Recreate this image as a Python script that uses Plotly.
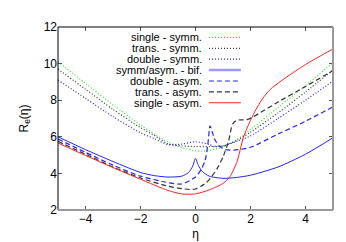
import plotly.graph_objects as go

# ---------------- data ----------------
x_single_symm = [-5, -4, -3, -2, -1.5, -1, -0.5, 0, 0.2, 0.5, 1, 1.5, 2, 3, 4, 5]
y_single_symm = [10.1, 8.92, 7.75, 6.65, 6.15, 5.72, 5.4, 5.23, 5.21, 5.25, 5.45, 5.85, 6.4, 7.6, 8.8, 10.05]

x_trans_symm = [-5, -4, -3, -2, -1.5, -1, -0.5, 0, 0.5, 1, 1.5, 2, 3, 4, 5]
y_trans_symm = [9.7, 8.6, 7.5, 6.5, 6.08, 5.62, 5.5, 5.47, 5.47, 5.5, 5.8, 6.25, 7.3, 8.45, 9.65]

x_double_symm = [-5, -4, -3, -2, -1.5, -1, -0.5, 0, 0.5, 0.7, 1, 1.5, 2, 3, 4, 5]
y_double_symm = [9.1, 8.1, 7.1, 6.22, 5.9, 5.57, 5.6, 5.73, 5.58, 5.47, 5.5, 5.75, 6.05, 7.0, 8.0, 9.04]

x_bif = [-5, -4, -3, -2, -1.5, -1, -0.5, -0.25, -0.1, 0, 0.1, 0.25, 0.5, 1, 1.5, 2, 3, 4, 5]
y_bif = [6.0, 5.3, 4.65, 4.05, 3.88, 3.8, 3.85, 4.05, 4.4, 4.82, 4.45, 4.1, 3.85, 3.73, 3.78, 3.9, 4.35, 5.05, 5.95]

x_double_asym = [-5, -4, -3, -2, -1, -0.5, 0, 0.2, 0.35, 0.45, 0.53, 0.6, 0.72, 0.9, 1.1, 1.4, 2, 3, 4, 5]
y_double_asym = [5.88, 5.15, 4.45, 3.85, 3.5, 3.42, 3.8, 4.2, 4.7, 5.6, 6.6, 6.3, 5.8, 5.45, 5.3, 5.27, 5.43, 6.15, 6.85, 7.64]

x_trans_asym = [-5, -4, -3, -2, -1, -0.5, -0.2, 0, 0.2, 0.4, 0.6, 0.8, 1, 1.2, 1.35, 1.5, 1.9, 2.5, 3, 4, 5]
y_trans_asym = [5.75, 5.05, 4.35, 3.75, 3.3, 3.17, 3.12, 3.15, 3.3, 3.5, 3.85, 4.3, 4.9, 5.75, 6.7, 6.9, 6.95, 7.45, 7.9, 8.75, 9.62]

x_single_asym = [-5, -4, -3, -2, -1, -0.5, 0, 0.5, 1, 1.25, 1.5, 1.75, 2, 2.2, 2.4, 2.6, 2.8, 3.25, 4, 5]
y_single_asym = [5.66, 4.98, 4.32, 3.68, 3.07, 2.88, 2.88, 3.1, 3.45, 3.82, 4.6, 6.0, 6.9, 7.5, 8.0, 8.4, 8.7, 9.2, 9.95, 10.8]

x_ticks = [-4, -2, 0, 2, 4]
y_ticks = [2, 4, 6, 8, 10, 12]

legend_labels = ["single - symm.", "trans. - symm.", "double - symm.", "symm/asym. - bif.",
                 "double - asym.", "trans. - asym.", "single - asym."]

# ---------------- styles ----------------
GREEN = "#22ee22"
GRAY = "#333333"
BLUE = "#2222ff"
RED = "#ff2222"
DOT = "1px,2px"
DASH = "5px,3px"

series = [
    (x_single_symm, y_single_symm, GREEN, DOT, 1.2),
    (x_trans_symm, y_trans_symm, GRAY, DOT, 1.2),
    (x_double_symm, y_double_symm, BLUE, DOT, 1.2),
    (x_bif, y_bif, BLUE, "solid", 1.0),
    (x_double_asym, y_double_asym, BLUE, DASH, 1.2),
    (x_trans_asym, y_trans_asym, GRAY, DASH, 1.2),
    (x_single_asym, y_single_asym, RED, "solid", 1.0),
]

fig = go.Figure()
for (xs, ys, col, dash, w), name in zip(series, legend_labels):
    fig.add_trace(go.Scatter(x=xs, y=ys, mode="lines", name=name,
                             line=dict(color=col, dash=dash, width=w, shape="spline", smoothing=0.7),
                             showlegend=False))

# manual legend (text left, sample right, like the original)
legend_styles = [
    (GREEN, DOT, 1.2), (GRAY, DOT, 1.2), (BLUE, DOT, 1.2), ("#9999ff", "solid", 2.5),
    (BLUE, DASH, 1.2), (GRAY, DASH, 1.2), (RED, "solid", 1.0),
]
y0 = 0.943
dy = 0.0595
for i, (lab, (col, dash, w)) in enumerate(zip(legend_labels, legend_styles)):
    yy = y0 - i * dy
    fig.add_annotation(x=0.527, y=yy, xref="paper", yref="paper", text=lab, showarrow=False,
                       xanchor="right", yanchor="middle", borderpad=0,
                       font=dict(family="Liberation Sans, Arial", size=11, color="#000"))
    fig.add_shape(type="line", xref="paper", yref="paper", x0=0.549, x1=0.665, y0=yy, y1=yy,
                  line=dict(color=col, dash=dash, width=w))

# border
fig.add_shape(type="line", xref="paper", yref="paper", x0=0, x1=0, y0=0, y1=1, line=dict(color="#000", width=1))
fig.add_shape(type="line", xref="paper", yref="paper", x0=0, x1=1, y0=1, y1=1, line=dict(color="#000", width=1))
fig.add_shape(type="line", xref="paper", yref="paper", x0=0, x1=1, y0=0, y1=0, line=dict(color="#999", width=2))
fig.add_shape(type="line", xref="paper", yref="paper", x0=1, x1=1, y0=0, y1=1, line=dict(color="#999", width=2))

fig.update_layout(
    width=346, height=242,
    margin=dict(l=50, r=21, t=13, b=37),
    paper_bgcolor="white", plot_bgcolor="white",
    font=dict(family="Liberation Sans, Arial", size=12, color="#000"),
    xaxis=dict(range=[-5, 5], tickvals=x_ticks, ticks="inside", ticklen=4, tickcolor="#555",
               mirror="ticks", showline=False, showgrid=False, zeroline=False,
               title=dict(text="η", standoff=4, font=dict(size=12))),
    yaxis=dict(range=[2, 12], tickvals=y_ticks, ticks="inside", ticklen=4, tickcolor="#555",
               mirror="ticks", showline=False, showgrid=False, zeroline=False,
               title=dict(text="R<sub>e</sub>(η)", standoff=12, font=dict(size=12))),
)

fig.write_html("out.html")
